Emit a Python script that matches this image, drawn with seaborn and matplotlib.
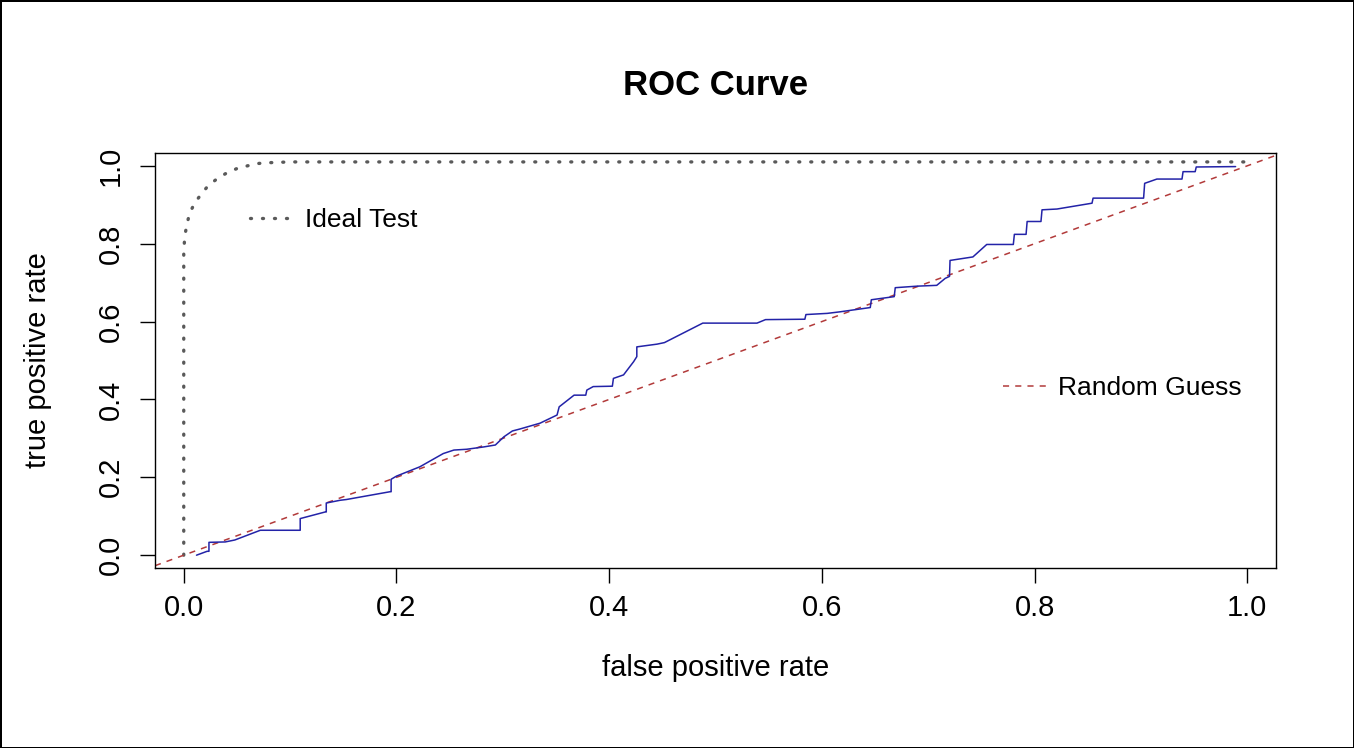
import matplotlib
matplotlib.use("Agg")
import matplotlib.pyplot as plt
import seaborn as sns
import pandas as pd
from matplotlib.lines import Line2D

# ---- data ----
roc_fpr = [0.012, 0.022, 0.0237, 0.0237, 0.039, 0.048, 0.072, 0.1095, 0.1095, 0.133, 0.134, 0.134,
           0.147, 0.153, 0.194, 0.195, 0.195, 0.200, 0.222, 0.244, 0.254, 0.266, 0.282, 0.293,
           0.301, 0.309, 0.316, 0.335, 0.351, 0.353, 0.367, 0.378, 0.379, 0.385, 0.403, 0.404,
           0.4135, 0.423, 0.426, 0.426, 0.445, 0.452, 0.488, 0.539, 0.547, 0.584, 0.585, 0.605,
           0.617, 0.6455, 0.6465, 0.668, 0.669, 0.690, 0.708, 0.716, 0.720, 0.7205, 0.742, 0.755,
           0.780, 0.781, 0.792, 0.793, 0.806, 0.807, 0.821, 0.854, 0.855, 0.9025, 0.9035, 0.915,
           0.9386, 0.9396, 0.951, 0.952, 0.989]
roc_tpr = [0.000, 0.010, 0.010, 0.033, 0.034, 0.039, 0.064, 0.064, 0.094, 0.111, 0.111, 0.134,
           0.141, 0.143, 0.163, 0.163, 0.195, 0.203, 0.227, 0.261, 0.270, 0.272, 0.278, 0.283,
           0.304, 0.319, 0.324, 0.339, 0.360, 0.381, 0.411, 0.411, 0.424, 0.433, 0.434, 0.454,
           0.463, 0.497, 0.510, 0.535, 0.542, 0.546, 0.596, 0.596, 0.605, 0.606, 0.618, 0.621,
           0.625, 0.636, 0.656, 0.664, 0.687, 0.691, 0.693, 0.711, 0.716, 0.757, 0.766, 0.798,
           0.798, 0.824, 0.824, 0.857, 0.857, 0.887, 0.889, 0.904, 0.917, 0.917, 0.955, 0.966,
           0.966, 0.985, 0.985, 0.997, 0.998]

ideal_fpr = [0.0, 0.0, 0.0, 0.001, 0.003, 0.0055, 0.0102, 0.0166, 0.023, 0.0315, 0.040,
             0.050, 0.060, 0.070, 0.080, 0.10, 1.0]
ideal_tpr = [0.0, 0.70, 0.78, 0.82, 0.85, 0.878, 0.904, 0.928, 0.949, 0.967, 0.981,
             0.993, 1.0, 1.006, 1.008, 1.01, 1.01]

guess_fpr = [0.0, 1.0]
guess_tpr = [0.0, 1.0]

tick_values = [0.0, 0.2, 0.4, 0.6, 0.8, 1.0]
tick_labels = ["0.0", "0.2", "0.4", "0.6", "0.8", "1.0"]

title = "ROC Curve"
xlabel = "false positive rate"
ylabel = "true positive rate"

# ---- style ----
sns.set_style("white")
plt.rcParams['font.family'] = ['Liberation Sans', 'DejaVu Sans']
plt.rcParams['text.color'] = 'black'
plt.rcParams['axes.labelcolor'] = 'black'
plt.rcParams['xtick.color'] = 'black'
plt.rcParams['ytick.color'] = 'black'

blue = "#2323a8"
red = "#b23a3a"
grey = "#5a5a5a"

fig = plt.figure(figsize=(13.54, 7.48), dpi=100)
fig.patch.set_facecolor("white")
fig.patch.set_edgecolor("black")
fig.patch.set_linewidth(1.0)
ax = fig.add_axes([0.1145, 0.2406, 0.8279, 0.5549])

roc_df = pd.DataFrame({"fpr": roc_fpr, "tpr": roc_tpr})
ideal_df = pd.DataFrame({"fpr": ideal_fpr, "tpr": ideal_tpr})

ideal_lw = 2.4
ideal_ls = (0, (0.3, 3.3))
sns.lineplot(data=ideal_df, x="fpr", y="tpr", sort=False, estimator=None, ax=ax,
             color=grey, linewidth=ideal_lw, linestyle=ideal_ls, dash_capstyle="round")
ax.axline((guess_fpr[0], guess_tpr[0]), (guess_fpr[1], guess_tpr[1]),
          color=red, linewidth=1.1, linestyle=(0, (4, 4)))
sns.lineplot(data=roc_df, x="fpr", y="tpr", sort=False, estimator=None, ax=ax,
             color=blue, linewidth=1.1)

ax.set_xlim(-0.027, 1.027)
ax.set_ylim(-0.033, 1.033)
ax.set_xticks(tick_values)
ax.set_xticklabels(tick_labels)
ax.set_yticks(tick_values)
ax.set_yticklabels(tick_labels, rotation=90, va="center")

for s in ax.spines.values():
    s.set_color("black")
    s.set_linewidth(1.0)

ax.tick_params(axis="both", direction="out", length=11, width=1.0, color="black",
               labelsize=21, labelcolor="black")
ax.tick_params(axis="x", pad=8, bottom=True)
ax.tick_params(axis="y", pad=11, left=True)

ax.set_xlabel(xlabel, fontsize=21, va="center")
ax.set_ylabel(ylabel, fontsize=21, va="center", ha="center")
ax.xaxis.set_label_coords(0.5, -0.241)
ax.yaxis.set_label_coords(-0.104, 0.5)

fig.text(0.5285, 0.886, title, ha="center", va="center", fontsize=25, fontweight="bold")

h_ideal = Line2D([], [], color=grey, linewidth=ideal_lw, linestyle=ideal_ls, dash_capstyle="round")
h_guess = Line2D([], [], color=red, linewidth=1.1, linestyle=(0, (4, 4)))

leg1 = ax.legend([h_ideal], ["Ideal Test"], loc="center left", bbox_to_anchor=(0.0847, 0.8386),
                 frameon=False, fontsize=19, handlelength=1.8, handletextpad=0.3,
                 borderpad=0, borderaxespad=0)
ax.add_artist(leg1)
ax.legend([h_guess], ["Random Guess"], loc="center left", bbox_to_anchor=(0.7565, 0.4337),
          frameon=False, fontsize=19, handlelength=1.8, handletextpad=0.3,
          borderpad=0, borderaxespad=0)

fig.savefig("out.png", dpi=100, facecolor=fig.get_facecolor(), edgecolor=fig.get_edgecolor())
